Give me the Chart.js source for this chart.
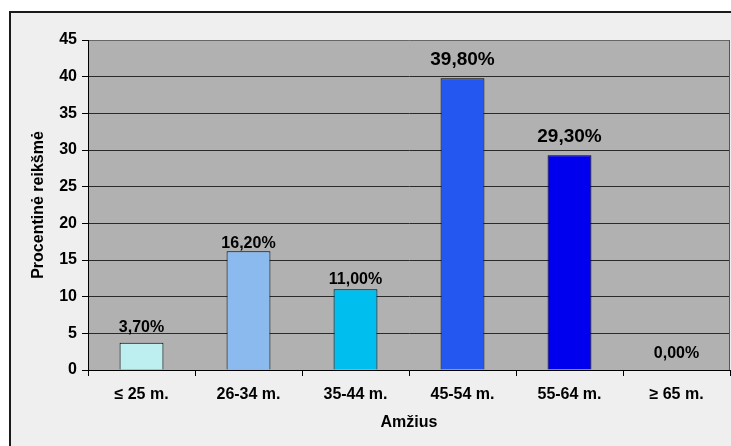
<!DOCTYPE html>
<html>
<head>
<meta charset="utf-8">
<script src="https://cdn.jsdelivr.net/npm/chart.js@4/dist/chart.umd.min.js"></script>
<style>
  html, body { margin: 0; padding: 0; background: #ffffff; }
  #wrap { width: 731px; height: 446px; }
</style>
</head>
<body>
<div id="wrap"><canvas id="c" width="731" height="446"></canvas></div>
<script>
// Age groups and their share of respondents (percent)
const ageGroups = ['≤ 25 m.', '26-34 m.', '35-44 m.', '45-54 m.', '55-64 m.', '≥ 65 m.'];
const shares = [3.7, 16.2, 11.0, 39.8, 29.3, 0.0];
const barColors = ['#BDEEF0', '#8BBBEE', '#00BFEF', '#2457F0', '#0000EE', '#C0C0C0'];
const yTicks = [0, 5, 10, 15, 20, 25, 30, 35, 40, 45];

// Label styling per bar: font size and gap between text baseline and bar top
const labelSizes = [16, 16, 16, 19, 19, 16];
const labelGaps = [11, 3, 5, 13, 13, 12];

const FONT = 'Arial, "Liberation Sans", sans-serif';

// Frame, panel background and plot-area fill
const framePlugin = {
  id: 'frame',
  beforeDraw(chart) {
    const { ctx, chartArea: a } = chart;
    ctx.save();
    ctx.fillStyle = '#ffffff';
    ctx.fillRect(0, 0, chart.width, chart.height);
    ctx.fillStyle = '#EFEFEF';
    ctx.fillRect(10, 12, chart.width - 10, chart.height - 12);
    ctx.fillStyle = '#1a1a1a';
    ctx.fillRect(9, 11, chart.width - 9, 2);
    ctx.fillRect(9, 11, 2, chart.height - 11);
    ctx.fillStyle = '#B1B1B1';
    ctx.fillRect(a.left, a.top, a.right - a.left, a.bottom - a.top);
    ctx.restore();
  },
  afterDraw(chart) {
    const { ctx, chartArea: a } = chart;
    ctx.save();
    ctx.strokeStyle = '#555555';
    ctx.lineWidth = 1;
    ctx.beginPath();
    ctx.moveTo(a.right - 0.5, a.top);
    ctx.lineTo(a.right - 0.5, a.bottom);
    ctx.stroke();
    ctx.restore();
  }
};

// Percentage labels above each bar
const valueLabels = {
  id: 'valueLabels',
  afterDatasetsDraw(chart) {
    const { ctx } = chart;
    const meta = chart.getDatasetMeta(0);
    ctx.save();
    ctx.fillStyle = '#000000';
    ctx.textAlign = 'center';
    ctx.textBaseline = 'alphabetic';
    meta.data.forEach((bar, i) => {
      const txt = shares[i].toFixed(2).replace('.', ',') + '%';
      ctx.font = 'bold ' + labelSizes[i] + 'px ' + FONT;
      ctx.fillText(txt, bar.x, bar.y - labelGaps[i]);
    });
    ctx.restore();
  }
};

new Chart(document.getElementById('c'), {
  type: 'bar',
  data: {
    labels: ageGroups,
    datasets: [{
      data: shares,
      backgroundColor: barColors,
      borderColor: '#000000',
      borderWidth: 1,
      borderSkipped: 'bottom',
      categoryPercentage: 1.0,
      barPercentage: 0.41
    }]
  },
  options: {
    responsive: false,
    animation: false,
    devicePixelRatio: 1,
    layout: { padding: { left: 0, top: 40, right: 1, bottom: 0 } },
    plugins: {
      legend: { display: false },
      tooltip: { enabled: false }
    },
    scales: {
      x: {
        afterFit(scale) { scale.height = 76; },
        grid: {
          offset: true,
          drawOnChartArea: false,
          drawTicks: true,
          tickLength: 6,
          tickColor: '#000000',
          color: '#000000'
        },
        border: { display: true, color: '#000000', width: 1 },
        ticks: {
          color: '#000000',
          padding: 9,
          font: { family: FONT, size: 16, weight: 'bold' },
          maxRotation: 0
        },
        title: {
          display: true,
          text: 'Amžius',
          color: '#000000',
          font: { family: FONT, size: 16, weight: 'bold' },
          padding: { top: 0, bottom: 14 }
        }
      },
      y: {
        min: 0,
        max: 45,
        afterFit(scale) { scale.width = 88; },
        afterBuildTicks(scale) { scale.ticks = yTicks.map(v => ({ value: v })); },
        grid: {
          drawTicks: true,
          tickLength: 6,
          tickColor: '#000000',
          color: (c) => (c.tick && c.tick.value === 45 ? '#666666' : '#2a2a2a'),
          lineWidth: 1
        },
        border: { display: true, color: '#000000', width: 1 },
        ticks: {
          color: '#000000',
          padding: 5,
          font: { family: FONT, size: 16, weight: 'bold' }
        },
        title: {
          display: true,
          text: 'Procentinė reikšmė',
          color: '#000000',
          font: { family: FONT, size: 16, weight: 'bold' },
          padding: { top: 29, bottom: 0 }
        }
      }
    }
  },
  plugins: [framePlugin, valueLabels]
});
</script>
</body>
</html>
